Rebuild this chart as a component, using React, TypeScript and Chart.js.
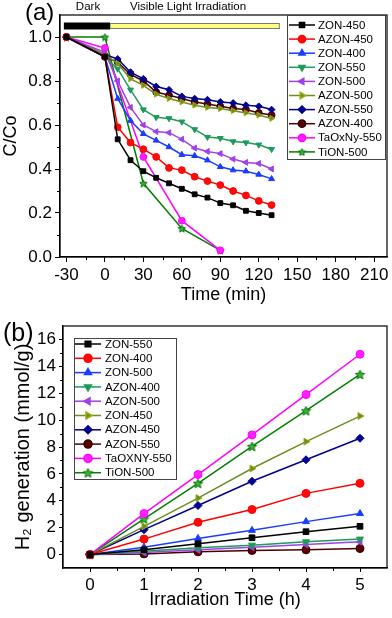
import React, { useEffect, useRef } from "react";
import { Chart, registerables } from "chart.js";
import { drawPoint } from "chart.js/helpers";

Chart.register(...registerables);

const FONT = "'Liberation Sans', Arial, Helvetica, sans-serif";

// ---------- Panel (a) data ----------
const timeMain = [-30, 0, 10, 20, 30, 40, 50, 60, 70, 80, 90, 100, 110, 120, 130];
const timeShort = [-30, 0, 30, 60, 90];
const aLabels = ["ZON-450", "AZON-450", "ZON-400", "ZON-550", "ZON-500", "AZON-500", "AZON-550", "AZON-400", "TaOxNy-550", "TiON-500"];
const aZON450 = [1.0, 0.91, 0.535, 0.44, 0.39, 0.36, 0.335, 0.31, 0.285, 0.27, 0.245, 0.235, 0.21, 0.2, 0.19];
const aAZON450 = [1.0, 0.91, 0.59, 0.52, 0.49, 0.455, 0.405, 0.395, 0.365, 0.345, 0.327, 0.3, 0.28, 0.255, 0.236];
const aZON400 = [1.0, 0.91, 0.72, 0.62, 0.56, 0.53, 0.5, 0.465, 0.46, 0.44, 0.41, 0.395, 0.39, 0.375, 0.355];
const aZON550 = [1.0, 0.91, 0.855, 0.76, 0.67, 0.635, 0.63, 0.615, 0.58, 0.545, 0.54, 0.525, 0.52, 0.51, 0.49];
const aZON500 = [1.0, 0.93, 0.8, 0.68, 0.6, 0.57, 0.565, 0.535, 0.495, 0.48, 0.47, 0.445, 0.43, 0.425, 0.4];
const aAZON500 = [1.0, 0.92, 0.88, 0.81, 0.78, 0.74, 0.72, 0.705, 0.69, 0.68, 0.675, 0.665, 0.655, 0.645, 0.63];
const aAZON550 = [1.0, 0.92, 0.9, 0.84, 0.81, 0.775, 0.76, 0.73, 0.72, 0.715, 0.705, 0.7, 0.69, 0.685, 0.67];
const aAZON400 = [1.0, 0.91, 0.885, 0.83, 0.8, 0.75, 0.735, 0.72, 0.705, 0.695, 0.685, 0.675, 0.67, 0.655, 0.645];
const aTaOxNy550 = [1.0, 0.95, 0.455, 0.165, 0.03];
const aTiON500 = [1.0, 1.0, 0.335, 0.13, 0.03];
const aXTicks = [-30, 0, 30, 60, 90, 120, 150, 180, 210];
const aYTicks = [0, 0.2, 0.4, 0.6, 0.8, 1.0];

// ---------- Panel (b) data ----------
const hours = [0, 1, 2, 3, 4, 5];
const bLabels = ["ZON-550", "ZON-400", "ZON-500", "AZON-400", "AZON-500", "ZON-450", "AZON-450", "AZON-550", "TaOXNY-550", "TiON-500"];
const bZON550 = [0, 0.35, 0.8, 1.25, 1.7, 2.1];
const bZON400 = [0, 1.15, 2.4, 3.35, 4.55, 5.3];
const bZON500 = [0, 0.55, 1.2, 1.8, 2.45, 3.05];
const bAZON400 = [0, 0.25, 0.5, 0.7, 0.95, 1.15];
const bAZON500 = [0, 0.15, 0.35, 0.55, 0.75, 0.95];
const bZON450 = [0, 2.1, 4.2, 6.4, 8.4, 10.3];
const bAZON450 = [0, 1.85, 3.65, 5.45, 7.05, 8.65];
const bAZON550 = [0, 0.05, 0.2, 0.3, 0.35, 0.45];
const bTaOXNY550 = [0, 3.05, 5.95, 8.9, 11.9, 14.9];
const bTiON500 = [0, 2.65, 5.3, 8.05, 10.7, 13.4];
const bXTicks = [0, 1, 2, 3, 4, 5];
const bYTicks = [0, 2, 4, 6, 8, 10, 12, 14, 16];

function makeStar(fill: string, edge: string, size: number) {
  const c = document.createElement("canvas");
  c.width = size;
  c.height = size;
  const ctx = c.getContext("2d")!;
  const cx = size / 2, cy = size / 2 + 0.5, R = size / 2 - 0.6, r = R * 0.45;
  ctx.beginPath();
  for (let i = 0; i < 10; i++) {
    const ang = -Math.PI / 2 + (i * Math.PI) / 5;
    const rad = i % 2 === 0 ? R : r;
    ctx.lineTo(cx + rad * Math.cos(ang), cy + rad * Math.sin(ang));
  }
  ctx.closePath();
  ctx.fillStyle = fill;
  ctx.fill();
  ctx.strokeStyle = edge;
  ctx.lineWidth = 0.9;
  ctx.stroke();
  return c;
}

type Sty = { line: string; fill: string; edge: string; shape: any; rot: number };
function styles(starSize: number): Sty[] {
  return [
    { line: "#000000", fill: "#000000", edge: "#000000", shape: "rect", rot: 0 },
    { line: "#ff0000", fill: "#ff0a0a", edge: "#ff0000", shape: "circle", rot: 0 },
    { line: "#1a3cff", fill: "#1a3cff", edge: "#1a3cff", shape: "triangle", rot: 0 },
    { line: "#1e9a5a", fill: "#1e9a5a", edge: "#1e9a5a", shape: "triangle", rot: 180 },
    { line: "#a040e8", fill: "#a040e8", edge: "#a040e8", shape: "triangle", rot: 270 },
    { line: "#6b8e23", fill: "#6b8e23", edge: "#9aaa10", shape: "triangle", rot: 90 },
    { line: "#000090", fill: "#000090", edge: "#000090", shape: "rectRot", rot: 0 },
    { line: "#4a0000", fill: "#600000", edge: "#300000", shape: "circle", rot: 0 },
    { line: "#ff00ff", fill: "#ff20ff", edge: "#ff00ff", shape: "circle", rot: 0 },
    { line: "#008000", fill: "#33b833", edge: "#006000", shape: makeStar("#33b833", "#006000", starSize), rot: 0 },
  ];
}

type LegendBox = { x0: number; y0: number; x1: number; y1: number; firstY: number; step: number; lx0: number; lx1: number; tx: number; r: number; font: number };

function drawLegend(chart: any, box: LegendBox) {
  const ctx = chart.ctx as CanvasRenderingContext2D;
  ctx.save();
  ctx.fillStyle = "#ffffff";
  ctx.fillRect(box.x0, box.y0, box.x1 - box.x0, box.y1 - box.y0);
  ctx.strokeStyle = "#444";
  ctx.lineWidth = 1;
  ctx.strokeRect(box.x0 + 0.5, box.y0 + 0.5, box.x1 - box.x0, box.y1 - box.y0);
  chart.data.datasets.forEach((ds: any, i: number) => {
    const y = box.firstY + i * box.step;
    ctx.strokeStyle = ds.borderColor;
    ctx.lineWidth = 1.5;
    ctx.beginPath();
    ctx.moveTo(box.lx0, y);
    ctx.lineTo(box.lx1, y);
    ctx.stroke();
    ctx.fillStyle = ds.pointBackgroundColor;
    ctx.strokeStyle = ds.pointBorderColor;
    drawPoint(ctx, { pointStyle: ds.pointStyle, rotation: ds.pointRotation || 0, radius: box.r, borderWidth: 1 } as any, (box.lx0 + box.lx1) / 2, y);
    ctx.fillStyle = "#000";
    ctx.font = `${box.font}px ${FONT}`;
    ctx.textAlign = "left";
    ctx.textBaseline = "middle";
    ctx.fillText(ds.label, box.tx, y + 0.5);
  });
  ctx.restore();
}

function mids(ticks: number[]) {
  const out: number[] = [];
  for (let i = 0; i < ticks.length - 1; i++) out.push((ticks[i] + ticks[i + 1]) / 2);
  return out;
}

function drawFrameAndMinor(chart: any, xMinor: number[], yMinor: number[]) {
  const ctx = chart.ctx as CanvasRenderingContext2D;
  const a = chart.chartArea;
  const xs = chart.scales.x, ys = chart.scales.y;
  ctx.save();
  ctx.strokeStyle = "#000";
  ctx.lineWidth = 1.2;
  ctx.strokeRect(a.left, a.top, a.right - a.left, a.bottom - a.top);
  ctx.lineWidth = 1;
  ctx.beginPath();
  xMinor.forEach((v) => {
    const px = Math.round(xs.getPixelForValue(v)) + 0.5;
    ctx.moveTo(px, a.bottom);
    ctx.lineTo(px, a.bottom + 3);
  });
  yMinor.forEach((v) => {
    const py = Math.round(ys.getPixelForValue(v)) + 0.5;
    ctx.moveTo(a.left, py);
    ctx.lineTo(a.left - 3, py);
  });
  ctx.stroke();
  ctx.restore();
}

function buildDatasets(labels: string[], xs: number[][], ys: number[][], sty: Sty[], radius: number) {
  return labels.map((label, i) => ({
    label,
    data: xs[i].map((x, j) => ({ x, y: ys[i][j] })),
    borderColor: sty[i].line,
    backgroundColor: sty[i].fill,
    pointBackgroundColor: sty[i].fill,
    pointBorderColor: sty[i].edge,
    pointStyle: sty[i].shape,
    pointRotation: sty[i].rot,
    pointRadius: radius,
    pointBorderWidth: 1,
    borderWidth: 1.5,
    tension: 0,
    fill: false,
  }));
}

function axis(opts: {
  min: number; max: number; ticks: number[]; fmt: (v: number) => string; size: (s: any) => void;
  title: string; titleSize: number; titlePad: any; tickSize: number; tickLen: number;
}) {
  return {
    type: "linear" as const,
    min: opts.min,
    max: opts.max,
    afterBuildTicks: (s: any) => {
      s.ticks = opts.ticks.map((v) => ({ value: v }));
    },
    afterFit: opts.size,
    ticks: {
      font: { family: FONT, size: opts.tickSize },
      color: "#000",
      padding: 3,
      autoSkip: false,
      maxRotation: 0,
      callback: (v: any) => opts.fmt(Number(v)),
    },
    grid: { drawOnChartArea: false, drawTicks: true, tickLength: opts.tickLen, color: "#000", lineWidth: 1 },
    border: { display: true, color: "#000", width: 1.2 },
    title: {
      display: true,
      text: opts.title,
      color: "#000",
      font: { family: FONT, size: opts.titleSize, lineHeight: 1.2 },
      padding: opts.titlePad,
    },
  };
}

function PanelA() {
  const ref = useRef<HTMLCanvasElement>(null);
  useEffect(() => {
    const sty = styles(9);
    const xs = [timeMain, timeMain, timeMain, timeMain, timeMain, timeMain, timeMain, timeMain, timeShort, timeShort];
    const ys = [aZON450, aAZON450, aZON400, aZON550, aZON500, aAZON500, aAZON550, aAZON400, aTaOxNy550, aTiON500];
    const DARK_START = -32, DARK_END = 4, LIGHT_END = 136, BAR_Y = 1.05;
    const decor = {
      id: "decorA",
      afterDraw(chart: any) {
        drawFrameAndMinor(chart, mids(aXTicks), mids(aYTicks));
        const ctx = chart.ctx as CanvasRenderingContext2D;
        const xsx = chart.scales.x, ysy = chart.scales.y;
        const yb = ysy.getPixelForValue(BAR_Y);
        const xd0 = xsx.getPixelForValue(DARK_START), xd1 = xsx.getPixelForValue(DARK_END), xl1 = xsx.getPixelForValue(LIGHT_END);
        ctx.save();
        ctx.fillStyle = "#ffff80";
        ctx.fillRect(xd1, yb - 2.5, xl1 - xd1, 5);
        ctx.strokeStyle = "#777";
        ctx.lineWidth = 1;
        ctx.strokeRect(xd1, yb - 2.5, xl1 - xd1, 5);
        ctx.fillStyle = "#000";
        ctx.fillRect(xd0, yb - 3.5, xd1 - xd0, 7);
        ctx.font = `11.5px ${FONT}`;
        ctx.textAlign = "center";
        ctx.textBaseline = "middle";
        ctx.fillText("Dark", 88, 7);
        ctx.fillText("Visible Light Irradiation", 188, 7);
        ctx.font = `24px ${FONT}`;
        ctx.textAlign = "left";
        ctx.fillText("(a)", 25, 13);
        ctx.restore();
        drawLegend(chart, { x0: 287, y0: 15, x1: 385, y1: 159, firstY: 25, step: 14.1, lx0: 289, lx1: 315, tx: 318, r: 3.6, font: 11.5 });
      },
    };
    const chart = new Chart(ref.current!, {
      type: "line",
      data: { datasets: buildDatasets(aLabels, xs, ys, sty, 3.4) as any },
      options: {
        animation: false,
        responsive: false,
        devicePixelRatio: 1,
        layout: { padding: { left: 0, top: 15, right: 5, bottom: 0 } },
        plugins: { legend: { display: false }, tooltip: { enabled: false } },
        scales: {
          x: axis({
            min: -35, max: 220, ticks: aXTicks, fmt: (v) => String(v),
            size: (s: any) => { s.height = 53; },
            title: "Time (min)", titleSize: 18, titlePad: { top: 0, bottom: 4 }, tickSize: 17, tickLen: 5,
          }) as any,
          y: axis({
            min: 0, max: 1.1, ticks: aYTicks, fmt: (v) => v.toFixed(1),
            size: (s: any) => { s.width = 60; },
            title: "C/Co", titleSize: 18, titlePad: { top: 0, bottom: 0 }, tickSize: 17, tickLen: 5,
          }) as any,
        },
      },
      plugins: [decor],
    });
    return () => chart.destroy();
  }, []);
  return <canvas ref={ref} width={392} height={310} style={{ display: "block", position: "absolute", left: 0, top: 0 }} />;
}

function PanelB() {
  const ref = useRef<HTMLCanvasElement>(null);
  useEffect(() => {
    const sty = styles(11);
    const xs = bLabels.map(() => hours);
    const ys = [bZON550, bZON400, bZON500, bAZON400, bAZON500, bZON450, bAZON450, bAZON550, bTaOXNY550, bTiON500];
    const decor = {
      id: "decorB",
      afterDraw(chart: any) {
        drawFrameAndMinor(chart, mids(bXTicks), mids(bYTicks));
        const ctx = chart.ctx as CanvasRenderingContext2D;
        ctx.save();
        ctx.fillStyle = "#000";
        ctx.font = `25px ${FONT}`;
        ctx.textAlign = "left";
        ctx.textBaseline = "middle";
        ctx.fillText("(b)", 3, 24);
        ctx.restore();
        drawLegend(chart, { x0: 74, y0: 28, x1: 176, y1: 169, firstY: 34, step: 14.3, lx0: 75, lx1: 101, tx: 105, r: 4, font: 11.5 });
      },
    };
    const chart = new Chart(ref.current!, {
      type: "line",
      data: { datasets: buildDatasets(bLabels, xs, ys, sty, 4) as any },
      options: {
        animation: false,
        responsive: false,
        devicePixelRatio: 1,
        layout: { padding: { left: 0, top: 16, right: 3, bottom: 0 } },
        plugins: { legend: { display: false }, tooltip: { enabled: false } },
        scales: {
          x: axis({
            min: -0.5, max: 5.5, ticks: bXTicks, fmt: (v) => String(v),
            size: (s: any) => { s.height = 50; },
            title: "Irradiation Time (h)", titleSize: 18, titlePad: { top: 0, bottom: 7 }, tickSize: 17, tickLen: 4,
          }) as any,
          y: axis({
            min: -1, max: 17, ticks: bYTicks, fmt: (v) => String(v),
            size: (s: any) => { s.width = 63; },
            title: "H\u2082 generation (mmol/g)", titleSize: 20, titlePad: { top: 11, bottom: 0 }, tickSize: 17, tickLen: 4,
          }) as any,
        },
      },
      plugins: [decor],
    });
    return () => chart.destroy();
  }, []);
  return <canvas ref={ref} width={392} height={308} style={{ display: "block", position: "absolute", left: 0, top: 310 }} />;
}

export default function App() {
  return (
    <div style={{ position: "absolute", left: 0, top: 0, width: 392, height: 618, background: "#ffffff", overflow: "hidden" }}>
      <PanelA />
      <PanelB />
    </div>
  );
}
